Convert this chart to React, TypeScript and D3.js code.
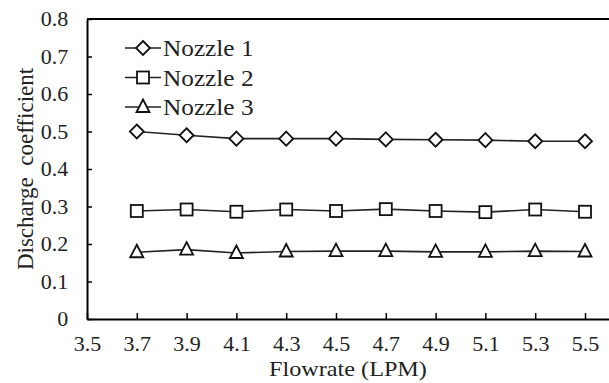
import React, { useEffect, useRef } from 'react';
import * as d3 from 'd3';

const flowrates = [3.7, 3.9, 4.1, 4.3, 4.5, 4.7, 4.9, 5.1, 5.3, 5.5];
const nozzle1 = [0.5, 0.49, 0.481, 0.481, 0.481, 0.479, 0.478, 0.477, 0.474, 0.474];
const nozzle2 = [0.288, 0.292, 0.286, 0.292, 0.288, 0.293, 0.288, 0.285, 0.292, 0.286];
const nozzle3 = [0.178, 0.185, 0.176, 0.18, 0.181, 0.181, 0.179, 0.179, 0.181, 0.18];
const seriesNames = ['Nozzle 1', 'Nozzle 2', 'Nozzle 3'];
const xTicks = [3.5, 3.7, 3.9, 4.1, 4.3, 4.5, 4.7, 4.9, 5.1, 5.3, 5.5];
const yTicks = [0, 0.1, 0.2, 0.3, 0.4, 0.5, 0.6, 0.7, 0.8];

const FONT = "'Liberation Serif', 'Times New Roman', Tinos, 'DejaVu Serif', serif";
// the source picture is slightly stretched horizontally
const STRETCH = 'scale(1.1,1)';

function App() {
  const svgRef = useRef(null);
  const width = 609;
  const height = 383;

  useEffect(() => {
    const svg = d3.select(svgRef.current);
    svg.selectAll('*').remove();

    const margin = { top: 19, right: 0, bottom: 64, left: 87 };

    const x = d3.scaleLinear()
      .domain([3.5, 5.6])
      .range([margin.left, margin.left + 21 * 24.9]);

    const y = d3.scaleLinear()
      .domain([0, 0.8])
      .range([height - margin.bottom, margin.top]);

    const series = [
      { name: seriesNames[0], values: nozzle1, shape: 'diamond' },
      { name: seriesNames[1], values: nozzle2, shape: 'square' },
      { name: seriesNames[2], values: nozzle3, shape: 'triangle' },
    ];

    const drawMarker = (g, shape, cx, cy) => {
      if (shape === 'diamond') {
        g.append('path')
          .attr('d', `M${cx},${cy - 7}L${cx + 7},${cy}L${cx},${cy + 7}L${cx - 7},${cy}Z`)
          .attr('fill', '#fff').attr('stroke', '#111').attr('stroke-width', 1.8);
      } else if (shape === 'square') {
        g.append('rect')
          .attr('x', cx - 6).attr('y', cy - 6).attr('width', 12).attr('height', 12)
          .attr('fill', '#fff').attr('stroke', '#111').attr('stroke-width', 1.8);
      } else {
        g.append('path')
          .attr('d', `M${cx},${cy - 7.5}L${cx + 6.5},${cy + 5}L${cx - 6.5},${cy + 5}Z`)
          .attr('fill', '#fff').attr('stroke', '#111').attr('stroke-width', 1.8);
      }
    };

    // axes
    const xAxis = svg.append('g')
      .attr('transform', `translate(0,${y(0)})`)
      .call(d3.axisBottom(x).tickValues(xTicks).tickSizeInner(-6).tickSizeOuter(0).tickPadding(18).tickFormat(d3.format('.1f')));
    const yAxis = svg.append('g')
      .attr('transform', `translate(${x(3.5)},0)`)
      .call(d3.axisLeft(y).tickValues(yTicks).tickSizeInner(-5).tickSizeOuter(0).tickPadding(17)
        .tickFormat(d => (d === 0 ? '0' : d3.format('.1f')(d))));

    [xAxis, yAxis].forEach(a => {
      a.attr('font-family', FONT).attr('font-size', 20);
      a.select('.domain').attr('stroke', '#000').attr('stroke-width', 2);
      a.selectAll('.tick line').attr('stroke', '#000').attr('stroke-width', 1.5);
      a.selectAll('.tick text')
        .attr('fill', '#222')
        .attr('font-family', FONT)
        .attr('font-size', 20)
        .attr('transform', STRETCH);
    });
    yAxis.selectAll('.tick text').attr('dy', '0.34em');

    // top border
    svg.append('line')
      .attr('x1', x(3.5)).attr('x2', width)
      .attr('y1', y(0.8)).attr('y2', y(0.8))
      .attr('stroke', '#000').attr('stroke-width', 2);

    // lines + markers
    const line = d3.line()
      .x((d, i) => x(flowrates[i]))
      .y(d => y(d));

    series.forEach(s => {
      svg.append('path')
        .datum(s.values)
        .attr('d', line)
        .attr('fill', 'none')
        .attr('stroke', '#222')
        .attr('stroke-width', 1.6);
      const g = svg.append('g');
      s.values.forEach((v, i) => drawMarker(g, s.shape, x(flowrates[i]), y(v)));
    });

    // legend
    const legend = svg.append('g');
    series.forEach((s, i) => {
      const ly = 48 + i * 29.5;
      legend.append('line')
        .attr('x1', 125).attr('x2', 161).attr('y1', ly).attr('y2', ly)
        .attr('stroke', '#222').attr('stroke-width', 1.6);
      drawMarker(legend, s.shape, 143, ly);
      legend.append('g')
        .attr('transform', `translate(163,${ly + 8}) ${STRETCH}`)
        .append('text')
        .attr('font-family', FONT).attr('font-size', 23)
        .attr('fill', '#222')
        .text(s.name);
    });

    // axis titles
    svg.append('g')
      .attr('transform', `translate(348,376) ${STRETCH}`)
      .append('text')
      .attr('text-anchor', 'middle')
      .attr('font-family', FONT).attr('font-size', 22)
      .attr('fill', '#222')
      .text('Flowrate (LPM)');

    svg.append('text')
      .attr('text-anchor', 'middle')
      .attr('transform', `translate(33,${(y(0) + y(0.8)) / 2})rotate(-90)`)
      .attr('font-family', FONT).attr('font-size', 23)
      .style('white-space', 'pre')
      .attr('fill', '#222')
      .text('Discharge  coefficient');
  }, []);

  return (
    <svg ref={svgRef} width={width} height={height}
      style={{ position: 'absolute', left: 0, top: 0, background: '#fff' }} />
  );
}

export default App;
